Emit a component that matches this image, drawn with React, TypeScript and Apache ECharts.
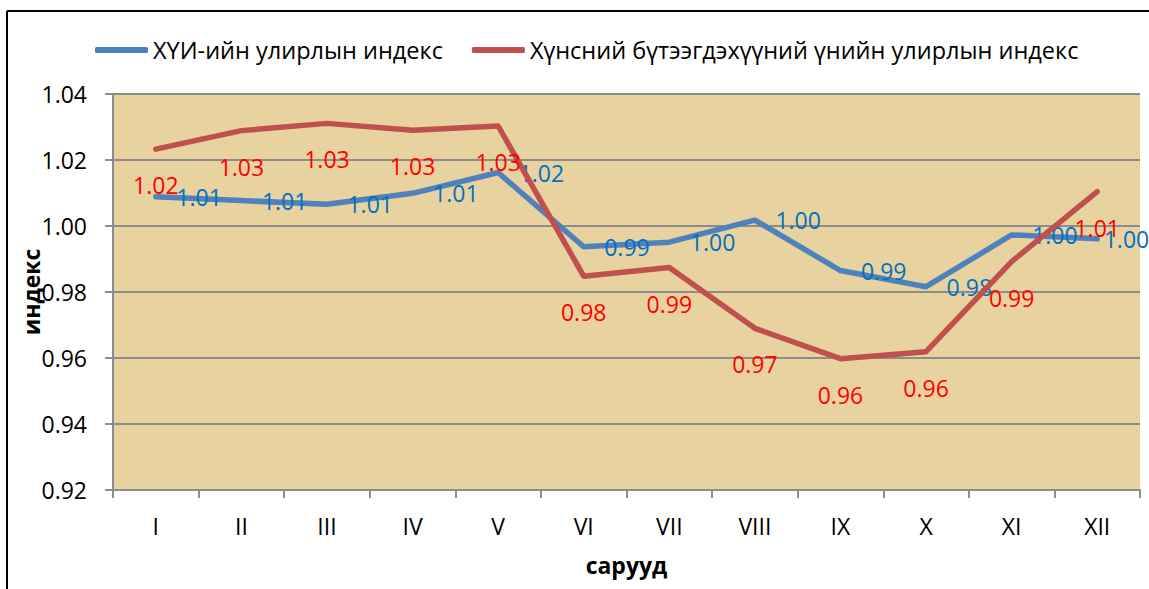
import React, { useEffect, useRef } from "react";
import * as echarts from "echarts";

const months = ["I", "II", "III", "IV", "V", "VI", "VII", "VIII", "IX", "X", "XI", "XII"];
const cpiIndex = [1.0089, 1.0077, 1.0066, 1.0099, 1.0162, 0.9937, 0.9951, 1.0018, 0.9865, 0.9816, 0.9973, 0.9961];
const foodIndex = [1.0233, 1.0289, 1.0311, 1.029, 1.0303, 0.9848, 0.9874, 0.969, 0.9598, 0.9619, 0.9892, 1.0104];
const seriesNames = ["ХҮИ-ийн улирлын индекс", "Хүнсний бүтээгдэхүүний үнийн улирлын индекс"];
const yMin = 0.92;
const yMax = 1.04;
const yStep = 0.02;

const FONT = "'Open Sans', sans-serif";

export default function App() {
  const ref = useRef<HTMLDivElement>(null);
  useEffect(() => {
    document.body.style.margin = "0";
    const chart = echarts.init(ref.current!, null, { renderer: "svg" });
    const labelFont = { fontFamily: FONT, fontSize: 23 };
    const lastIdx = cpiIndex.length - 1;
    chart.setOption({
      animation: false,
      backgroundColor: "#ffffff",
      textStyle: { fontFamily: FONT },
      graphic: [
        { type: "line", shape: { x1: 7, y1: 11, x2: 1149, y2: 11 }, style: { stroke: "#000", lineWidth: 2 } },
        { type: "line", shape: { x1: 7, y1: 11, x2: 7, y2: 589 }, style: { stroke: "#000", lineWidth: 2 } },
      ],
      legend: {
        left: 95,
        top: 38,
        padding: 0,
        itemWidth: 53,
        itemHeight: 6,
        itemGap: 29,
        icon: "roundRect",
        textStyle: { color: "#000", fontSize: 23.5, fontFamily: FONT },
        data: seriesNames,
      },
      grid: { left: 113, right: 9, top: 94, bottom: 99, backgroundColor: "#E8D3A0", show: true, borderWidth: 0 },
      xAxis: {
        type: "category",
        data: months,
        boundaryGap: true,
        name: "сарууд",
        nameLocation: "middle",
        nameGap: 63,
        nameMoveOverlap: false,
        nameTextStyle: { color: "#000", fontWeight: "bold", fontSize: 23, fontFamily: FONT },
        axisLine: { lineStyle: { color: "#8c8c8c", width: 2 } },
        axisTick: { show: true, length: 8, lineStyle: { color: "#8c8c8c", width: 2 } },
        axisLabel: { color: "#000", margin: 24, ...labelFont },
        splitLine: { show: false },
      },
      yAxis: {
        type: "value",
        min: yMin,
        max: yMax,
        interval: yStep,
        name: "индекс",
        nameLocation: "middle",
        nameGap: 71,
        nameMoveOverlap: false,
        nameRotate: 90,
        nameTextStyle: { color: "#000", fontWeight: "bold", fontSize: 23, fontFamily: FONT },
        axisLine: { show: true, lineStyle: { color: "#8c8c8c", width: 2 } },
        axisTick: { show: true, length: 8, lineStyle: { color: "#8c8c8c", width: 2 } },
        axisLabel: { color: "#000", margin: 26, formatter: (v: number) => v.toFixed(2), ...labelFont },
        splitLine: { show: true, lineStyle: { color: "#8c8c8c", width: 2 } },
      },
      series: [
        {
          name: seriesNames[0],
          type: "line",
          data: cpiIndex.map((v, i) => (i === lastIdx ? { value: v, label: { distance: 6 } } : v)),
          symbol: "circle",
          symbolSize: 1,
          showSymbol: true,
          color: "#4F81BD",
          lineStyle: { width: 5.5, color: "#4F81BD", cap: "round", join: "round" },
          itemStyle: { color: "#4F81BD" },
          label: {
            show: true,
            position: "right",
            distance: 20,
            color: "#0070C0",
            formatter: (p: any) => Number(p.value).toFixed(2),
            ...labelFont,
          },
          z: 2,
        },
        {
          name: seriesNames[1],
          type: "line",
          data: foodIndex,
          symbol: "circle",
          symbolSize: 1,
          showSymbol: true,
          color: "#C0504D",
          lineStyle: { width: 5.5, color: "#C0504D", cap: "round", join: "round" },
          itemStyle: { color: "#C0504D" },
          label: {
            show: true,
            position: "bottom",
            distance: 24,
            color: "#FF0000",
            formatter: (p: any) => Number(p.value).toFixed(2),
            ...labelFont,
          },
          z: 3,
        },
      ],
    });
    return () => chart.dispose();
  }, []);
  return <div ref={ref} style={{ width: 1149, height: 589, position: "absolute", left: 0, top: 0 }} />;
}
